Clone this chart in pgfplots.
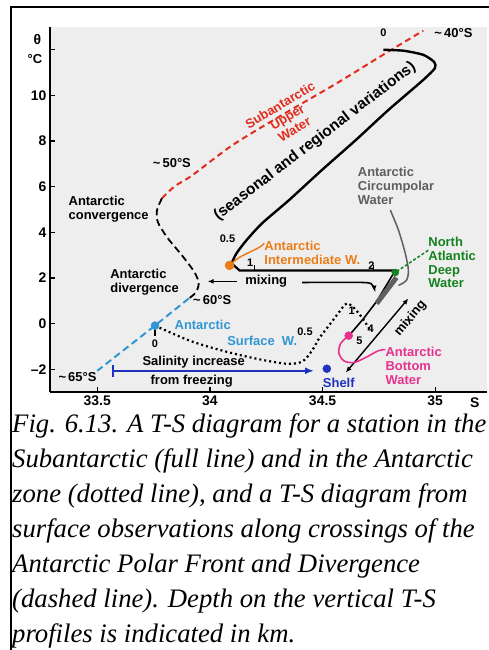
\documentclass[border=0pt]{standalone}
\usepackage{fontspec}
\setmainfont{Liberation Serif}
\setsansfont{Liberation Sans}
\usepackage{pgfplots}
\pgfplotsset{compat=1.18}
\usetikzlibrary{arrows.meta}
\definecolor{bgg}{RGB}{238,238,238}
\definecolor{sred}{RGB}{225,45,30}
\definecolor{lblue}{RGB}{50,150,210}
\definecolor{dblue}{RGB}{30,50,190}
\definecolor{aorange}{RGB}{235,125,25}
\definecolor{dgreen}{RGB}{20,130,30}
\definecolor{mag}{RGB}{230,50,140}
\definecolor{acw}{RGB}{95,95,95}
\tikzset{
  lab/.style={font=\sffamily\bfseries\fontsize{13}{14}\selectfont, inner sep=0pt, align=left},
  sml/.style={font=\sffamily\bfseries\fontsize{11}{12}\selectfont, inner sep=0pt},
  captxt/.style={font=\rmfamily\itshape\fontsize{26.8}{35}\selectfont, inner sep=0pt, anchor=base west}
}
\begin{document}
\begin{tikzpicture}[x=1bp,y=1bp]
\useasboundingbox (0,0) rectangle (489,650);
\draw[line width=1.5bp] (11,0) -- (11,643) -- (489,643);
\begin{axis}[
  at={(50bp,258bp)}, anchor=south west,
  width=437bp, height=365bp, scale only axis,
  xmin=33.29, xmax=35.23, ymin=-3, ymax=13,
  axis x line*=bottom, axis y line*=left,
  axis line style={line width=1.6bp},
  axis background/.style={fill=bgg},
  tick align=inside, major tick length=5bp,
  tick style={line width=1.2bp, black},
  xtick={33.5,34,34.5,35}, xticklabels={33.5,34,34.5,35},
  ytick={-2,0,2,4,6,8,10,12}, yticklabels={--2,0,2,4,6,8,10,{}},
  ticklabel style={font=\sffamily\bfseries\fontsize{14}{14}\selectfont},
  clip=false,
]
% surface observations: red dashed (Subantarctic Upper Water)
\addplot[sred, line width=2bp, dash pattern=on 6bp off 4bp, smooth] coordinates {
(33.787,5.49) (33.844,6.02) (33.923,6.51) (34.100,7.82) (34.320,9.14) (34.559,10.51) (34.762,11.74) (34.947,12.84)};
% black dashed (convergence / divergence)
\addplot[black, line width=1.8bp, dash pattern=on 7bp off 4bp, smooth] coordinates {
(33.787,5.49) (33.765,4.97) (33.769,4.44) (33.813,3.74) (33.879,2.95) (33.932,2.24) (33.950,1.76) (33.937,1.36) (33.906,1.10)};
% blue dashed
\addplot[lblue, line width=2bp, dash pattern=on 7bp off 4bp] coordinates {
(33.906,1.10) (33.756,-0.09) (33.5,-2.07)};
% Antarctic station: dotted
\addplot[black, line width=2.2bp, dash pattern=on 2bp off 3bp, smooth, tension=0.5] coordinates {
(33.756,-0.09) (33.910,-0.75) (34.056,-1.19) (34.206,-1.54) (34.338,-1.76) (34.409,-1.67) (34.453,-1.19) (34.484,-0.66) (34.528,-0.09) (34.572,0.48) (34.607,0.88) (34.642,0.66) (34.678,0.22) (34.713,-0.31)};
% Subantarctic station: full line
\addplot[black, line width=2.4bp, smooth, tension=0.4] coordinates {
(34.770,12.0) (34.859,11.96) (34.947,11.78) (34.995,11.47) (34.999,11.20) (34.947,10.68) (34.792,9.36) (34.647,8.04) (34.497,6.73) (34.351,5.41) (34.232,4.40) (34.162,3.65) (34.118,3.08) (34.096,2.64)};
\addplot[black, line width=2.2bp] coordinates {(34.096,2.64) (34.131,2.33) (34.823,2.33)};
\addplot[black, line width=1.6bp] coordinates {(34.823,2.33) (34.740,0.97) (34.682,0.22) (34.625,-0.44)};
% Antarctic Circumpolar Water
\addplot[acw, line width=5bp] coordinates {(34.828,2.02) (34.740,0.88)};
\addplot[acw, line width=1.5bp, smooth] coordinates {
(34.801,4.97) (34.837,4.09) (34.867,3.08) (34.881,2.33) (34.872,1.89) (34.837,1.67)};
% mixing arrows
\addplot[black, line width=1.6bp, -{Latex[length=6bp,width=5bp]}] coordinates {(34.118,1.85) (33.990,1.85)};
\addplot[black, line width=1.6bp, smooth, -{Latex[length=6bp,width=5bp]}] coordinates {(34.409,1.80) (34.680,1.80) (34.722,1.68) (34.731,1.40)};
\addplot[black, line width=1.4bp, {Latex[length=6bp,width=5bp]}-{Latex[length=6bp,width=5bp]}] coordinates {(34.603,-2.15) (34.881,1.10)};
% salinity increase from freezing
\addplot[dblue, line width=2bp, {Bar[width=12bp]}-{Latex[length=9bp,width=7bp]}] coordinates {(33.566,-2.07) (34.462,-2.07)};
% leaders
\addplot[aorange, line width=1.5bp, smooth] coordinates {(34.087,2.55) (34.131,2.90) (34.219,3.34) (34.241,3.52)};
\addplot[mag, line width=1.6bp, smooth] coordinates {
(34.616,-0.53) (34.581,-0.86) (34.572,-1.28) (34.594,-1.63) (34.638,-1.71) (34.691,-1.49) (34.748,-1.19) (34.779,-1.14)};
\addplot[dgreen, line width=1.5bp, dash pattern=on 3bp off 2bp] coordinates {(34.969,3.21) (34.823,2.24)};
% depth ticks
\addplot[black, line width=1.2bp] coordinates {(33.756,-0.09) (33.756,-0.55)};
\addplot[black, line width=1.2bp] coordinates {(34.197,2.55) (34.197,2.33)};
\addplot[black, line width=1.2bp] coordinates {(34.726,2.55) (34.726,2.33)};
% water mass dots
\addplot[only marks, mark=*, mark size=4bp, lblue] coordinates {(33.756,-0.09)};
\addplot[only marks, mark=*, mark size=4.5bp, aorange] coordinates {(34.087,2.55)};
\addplot[only marks, mark=*, mark size=3.5bp, dgreen] coordinates {(34.823,2.24)};
\addplot[only marks, mark=*, mark size=4bp, mag] coordinates {(34.616,-0.53)};
\addplot[only marks, mark=*, mark size=4bp, dblue] coordinates {(34.519,-1.98)};
% depth labels
\node[sml] at (axis cs:34.770,12.75) {0};
\node[sml] at (axis cs:34.078,3.71) {0.5};
\node[sml] at (axis cs:34.179,2.68) {1};
\node[sml] at (axis cs:34.717,2.55) {2};
\node[sml] at (axis cs:34.713,-0.22) {4};
\node[sml] at (axis cs:34.664,-0.75) {5};
\node[sml] at (axis cs:34.629,0.57) {1};
\node[sml] at (axis cs:34.422,-0.35) {0.5};
\node[sml] at (axis cs:33.756,-0.88) {0};
% latitude labels
\node[lab] at (axis cs:33.831,7.03) {\textasciitilde\,50°S};
\node[lab] at (axis cs:34.01,1.01) {\textasciitilde\,60°S};
\node[lab] at (axis cs:33.412,-2.33) {\textasciitilde\,65°S};
\node[lab] at (axis cs:35.081,12.75) {\textasciitilde\,40°S};
% water mass labels
\node[lab, anchor=west] at (axis cs:33.372,5.03) {Antarctic\\convergence};
\node[lab, anchor=west] at (axis cs:33.557,1.82) {Antarctic\\divergence};
\node[lab, text=lblue] at (axis cs:33.968,-0.04) {Antarctic};
\node[lab, text=lblue] at (axis cs:34.232,-0.75) {Surface\ \ W.};
\node[lab, text=aorange, anchor=west] at (axis cs:34.241,3.08) {Antarctic\\Intermediate W.};
\node[lab, text=sred, rotate=31, align=center] at (axis cs:34.343,9.05) {Subantarctic\\Upper\\Water};
\node[font=\sffamily\bfseries\fontsize{15.5}{16}\selectfont, inner sep=0pt, rotate=37.5] at (axis cs:34.466,7.98) {(seasonal and regional variations)};
\node[lab, text=acw, anchor=west] at (axis cs:34.656,6.02) {Antarctic\\Circumpolar\\Water};
\node[lab, text=dgreen, anchor=west] at (axis cs:34.969,2.68) {North\\Atlantic\\Deep\\Water};
\node[lab, text=mag, anchor=west] at (axis cs:34.779,-1.86) {Antarctic\\Bottom\\Water};
\node[lab, text=dblue] at (axis cs:34.572,-2.59) {Shelf};
\node[lab] at (axis cs:33.928,-1.71) {Salinity increase};
\node[lab] at (axis cs:33.919,-2.51) {from freezing};
\node[lab] at (axis cs:34.25,1.85) {mixing};
\node[lab, rotate=50] at (axis cs:34.890,0.22) {mixing};
\node[font=\sffamily\bfseries\fontsize{14}{14}\selectfont, inner sep=0pt] at (axis cs:35.176,-3.47) {S};
\end{axis}
\node[font=\sffamily\bfseries\fontsize{14}{14}\selectfont, inner sep=0pt] at (37.5,610) {θ};
\node[font=\sffamily\bfseries\fontsize{13}{14}\selectfont, inner sep=0pt] at (35,591) {°C};
% caption
\node[captxt] at (12,217) {Fig. 6.13. A T-S diagram for a station in the};
\node[captxt] at (12,182) {Subantarctic (full line) and in the Antarctic};
\node[captxt] at (12,147) {zone (dotted line), and a T-S diagram from};
\node[captxt] at (12,112) {surface observations along crossings of the};
\node[captxt] at (12,77) {Antarctic Polar Front and Divergence};
\node[captxt] at (12,42) {(dashed line). Depth on the vertical T-S};
\node[captxt] at (12,7) {profiles is indicated in km.};
\end{tikzpicture}
\end{document}
